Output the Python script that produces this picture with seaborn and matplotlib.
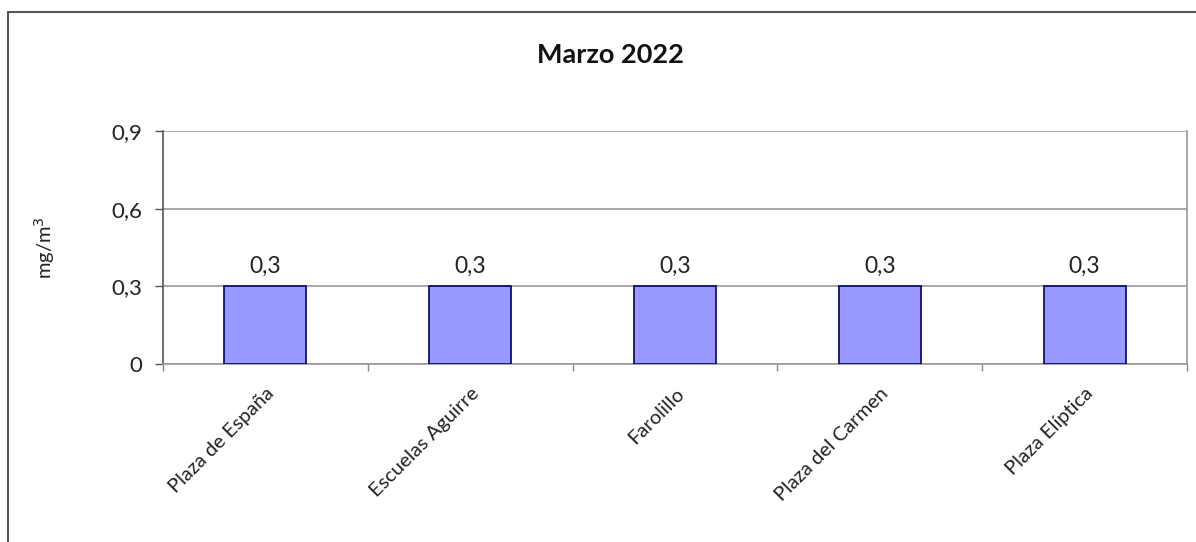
import matplotlib
matplotlib.use("Agg")
import matplotlib.pyplot as plt
import seaborn as sns
import pandas as pd
from matplotlib.lines import Line2D

# Data
stations = ['Plaza de España', 'Escuelas Aguirre', 'Farolillo', 'Plaza del Carmen', 'Plaza Elíptica']
values = [0.3, 0.3, 0.3, 0.3, 0.3]
y_ticks = [0, 0.3, 0.6, 0.9]
y_tick_labels = ['0', '0,3', '0,6', '0,9']
title = 'Marzo 2022'

sns.set_theme(style="white")
plt.rcParams['font.family'] = ['Lato', 'DejaVu Sans']

df = pd.DataFrame({'Estacion': stations, 'Valor': values})

fig = plt.figure(figsize=(11.96, 5.42), dpi=100)
ax = fig.add_axes([0.1363, 0.3284, 0.8562, 0.4299])

sns.barplot(x='Estacion', y='Valor', data=df, color='#9999ff', saturation=1,
            edgecolor='#000066', linewidth=1.2, width=0.4, ax=ax, zorder=3)

ax.set_xlim(-0.5, len(stations) - 0.5)
ax.set_ylim(0, 0.9)
ax.set_yticks(y_ticks)
ax.set_yticklabels(y_tick_labels, fontsize=16, color='#222222')
ax.yaxis.grid(True, color='#9a9a9a', linewidth=1.2, zorder=0)

# category labels rotated, ticks between categories
ax.set_xticks(range(len(stations)))
ax.set_xticklabels(stations, rotation=45, ha='right', rotation_mode='anchor',
                   fontsize=14.5, color='#222222')
ax.tick_params(axis='x', length=0, pad=15)
ax.set_xticks([i - 0.5 for i in range(len(stations) + 1)], minor=True)
ax.tick_params(axis='x', which='minor', bottom=True, length=5, color='#888888', width=1)
ax.tick_params(axis='y', left=True, length=6, color='#555555', width=1, pad=9)

for s in ['top', 'right', 'bottom']:
    ax.spines[s].set_color('#9a9a9a')
    ax.spines[s].set_linewidth(1.2)
ax.spines['top'].set_visible(False)
ax.spines['left'].set_color('#555555')
ax.spines['left'].set_linewidth(1.2)

for i, v in enumerate(values):
    ax.text(i, v + 0.035, f"{v:.1f}".replace('.', ','), ha='center', va='bottom',
            fontsize=16.5, color='#222222')

ax.set_xlabel('')
ax.set_ylabel('mg/m$^3$', fontsize=14.5, color='#222222')
ax.yaxis.set_label_coords(-0.1035, 0.5)

fig.text(0.51, 0.898, title, ha='center', va='center', fontsize=19.5, fontweight='bold',
         color='#111111')

# outer chart frame (left and top edges visible)
fig.add_artist(Line2D([0.0067, 0.0067], [0.0, 0.978], transform=fig.transFigure,
                      color='#555555', linewidth=1.5))
fig.add_artist(Line2D([0.0067, 1.0], [0.978, 0.978], transform=fig.transFigure,
                      color='#555555', linewidth=1.5))

fig.savefig('out.png', dpi=100)
